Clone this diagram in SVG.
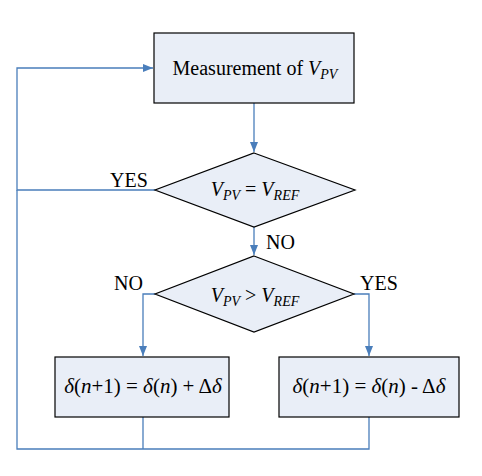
<svg xmlns="http://www.w3.org/2000/svg" width="482" height="476" viewBox="0 0 482 476">
<defs>
<marker id="ah" markerWidth="10" markerHeight="8" refX="10" refY="4" orient="auto" markerUnits="userSpaceOnUse">
<path d="M0,0 L10,4 L0,8 Z" fill="#4A7EBB"/>
</marker>
<style>
.n{fill:#E9EEF7;stroke:#000;stroke-width:1.2}
.c{fill:none;stroke:#4A7EBB;stroke-width:1.3}
text{font-family:'Liberation Serif','DejaVu Serif',serif;font-size:20px;fill:#000}
.d{font-size:21px}
.i{font-style:italic}
.s{font-size:14px;font-style:italic}
</style>
</defs>
<rect width="482" height="476" fill="#fff"/>
<g id="connectors">
<path class="c" d="M254,103 V152" marker-end="url(#ah)"/>
<path class="c" d="M254,227 V255" marker-end="url(#ah)"/>
<path class="c" d="M155,190 H17 V68 H153" marker-end="url(#ah)"/>
<path class="c" d="M155,294 H143 V356" marker-end="url(#ah)"/>
<path class="c" d="M354,294 H369 V356" marker-end="url(#ah)"/>
<path class="c" d="M143,417 V449 M369,417 V449 H17 V190"/>
</g>
<g id="measure">
<rect class="n" x="154" y="33" width="200" height="70"/>
<text x="255" y="75" text-anchor="middle">Measurement of <tspan class="i">V</tspan><tspan class="s" dy="4">PV</tspan></text>
</g>
<g id="dec1">
<polygon class="n" points="254,153 355,190 254,227 155,190"/>
<text x="255" y="196" text-anchor="middle"><tspan class="i">V</tspan><tspan class="s" dy="4">PV</tspan><tspan dy="-4"> = </tspan><tspan class="i">V</tspan><tspan class="s" dy="4">REF</tspan></text>
</g>
<g id="dec2">
<polygon class="n" points="254,256 354,294 254,332 155,294"/>
<text x="255" y="302" text-anchor="middle"><tspan class="i">V</tspan><tspan class="s" dy="4">PV</tspan><tspan dy="-4"> &gt; </tspan><tspan class="i">V</tspan><tspan class="s" dy="4">REF</tspan></text>
</g>
<g id="inc">
<rect class="n" x="55" y="357" width="174" height="60"/>
<text class="d" x="143" y="393" text-anchor="middle"><tspan class="i">δ</tspan>(<tspan class="i">n</tspan>+1) = <tspan class="i">δ</tspan>(<tspan class="i">n</tspan>) + Δ<tspan class="i">δ</tspan></text>
</g>
<g id="dec">
<rect class="n" x="279" y="357" width="180" height="60"/>
<text class="d" x="369" y="393" text-anchor="middle"><tspan class="i">δ</tspan>(<tspan class="i">n</tspan>+1) = <tspan class="i">δ</tspan>(<tspan class="i">n</tspan>) - Δ<tspan class="i">δ</tspan></text>
</g>
<g id="labels">
<text x="110" y="187">YES</text>
<text x="266" y="249">NO</text>
<text x="114" y="290">NO</text>
<text x="360" y="290">YES</text>
</g>
</svg>
